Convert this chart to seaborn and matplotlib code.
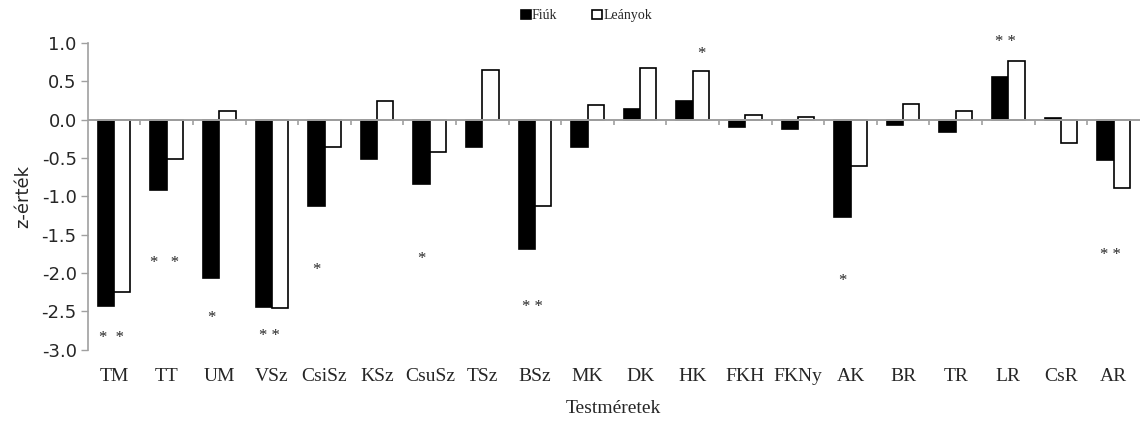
import numpy as np
import pandas as pd
import seaborn as sns
import matplotlib.pyplot as plt

categories = ["TM", "TT", "UM", "VSz", "CsiSz", "KSz", "CsuSz", "TSz", "BSz", "MK",
              "DK", "HK", "FKH", "FKNy", "AK", "BR", "TR", "LR", "CsR", "AR"]
fiuk = [-2.43, -0.92, -2.07, -2.44, -1.13, -0.51, -0.84, -0.36, -1.68, -0.36,
        0.14, 0.24, -0.10, -0.12, -1.27, -0.07, -0.16, 0.56, 0.02, -0.53]
leanyok = [-2.24, -0.51, 0.115, -2.46, -0.36, 0.245, -0.42, 0.65, -1.13, 0.19,
           0.67, 0.64, 0.06, 0.03, -0.60, 0.20, 0.115, 0.76, -0.31, -0.89]

# significance marks: category, text, which bar, y level
sig_cat = ["TM", "TT", "UM", "VSz", "CsiSz", "CsuSz", "BSz", "HK", "AK", "LR", "AR"]
sig_txt = ["*  *", "*   *", "*", "* *", "*", "*", "* *", "*", "*", "* *", "* *"]
sig_bar = ["both", "both", "F", "both", "F", "F", "both", "L", "F", "both", "both"]
sig_y = [-2.85, -1.87, -2.59, -2.82, -1.96, -1.81, -2.44, 0.85, -2.10, 1.01, -1.76]

df = pd.DataFrame({
    "Testméretek": categories * 2,
    "z": fiuk + leanyok,
    "nem": ["Fiúk"] * len(categories) + ["Leányok"] * len(categories),
})

sns.set_style("white")
plt.rcParams["font.family"] = ["Liberation Serif", "DejaVu Serif"]

fig, ax = plt.subplots(figsize=(11.41, 4.21), dpi=100)
fig.subplots_adjust(left=0.077, right=0.999, top=0.898, bottom=0.169)

sns.barplot(data=df, x="Testméretek", y="z", hue="nem", order=categories,
            palette={"Fiúk": "black", "Leányok": "white"},
            edgecolor="black", linewidth=1.2, width=0.62, gap=0, ax=ax)

ax.set_ylim(-3.0, 1.0)
ax.set_xlim(-0.5, len(categories) - 0.5)
ax.set_yticks(np.arange(-3.0, 1.01, 0.5))
ax.set_yticklabels([f"{v:.1f}" for v in np.arange(-3.0, 1.01, 0.5)],
                   family="DejaVu Sans", fontsize=13)
ax.tick_params(axis="y", length=5, width=1, color="#a0a0a0", direction="out", pad=3, left=True)
ax.tick_params(axis="x", length=0, labelsize=14, pad=13)

for s in ["top", "right", "bottom"]:
    ax.spines[s].set_visible(False)
ax.spines["left"].set_color("#a0a0a0")
ax.spines["left"].set_linewidth(1.2)

# zero line with category separators
ax.axhline(0, color="#a0a0a0", lw=1.4, zorder=3)
ax.vlines(np.arange(0.5, len(categories) - 0.5), -0.07, 0, color="#a0a0a0", lw=1.2, zorder=3)

off = {"both": -0.05, "F": -0.155, "L": 0.155}
for c, t, b, y in zip(sig_cat, sig_txt, sig_bar, sig_y):
    ax.text(categories.index(c) + off[b], y, t, ha="center", va="center", fontsize=12)

ax.set_xlabel("Testméretek", fontsize=14, labelpad=11)
ax.set_ylabel("z-érték", family="DejaVu Sans", fontsize=13, labelpad=7)

handles, labels = ax.get_legend_handles_labels()
ax.legend(handles, labels, loc="center", bbox_to_anchor=(0.514, 0.962),
          bbox_transform=fig.transFigure, ncol=2, frameon=False, fontsize=10,
          handlelength=0.7, handleheight=0.7, handletextpad=0.1, columnspacing=2.5)

fig.savefig("out.png", dpi=100)
